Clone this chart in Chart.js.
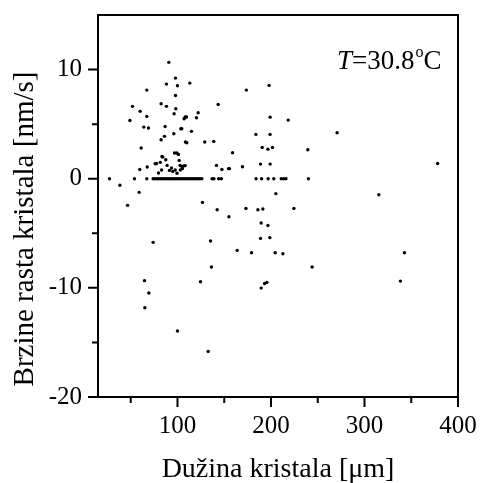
<!DOCTYPE html>
<html>
<head>
<meta charset="utf-8">
<script src="https://cdn.jsdelivr.net/npm/chart.js@4.4.0/dist/chart.umd.min.js"></script>
<style>
  html, body { margin: 0; padding: 0; background: #fff; }
  #wrap { width: 481px; height: 483px; }
</style>
</head>
<body>
<div id="wrap"><canvas id="chart" width="481" height="483"></canvas></div>
<script>
// points sitting exactly on zero growth rate
const zeroX = [27.3, 54, 67.2, 74, 76, 78, 80, 82, 84, 86, 88, 90, 92, 94, 96, 98, 100, 102, 104, 106,
  108, 110, 112, 114, 116, 118, 120, 122, 124, 126, 137, 139, 144, 147,
  184, 190, 197, 203, 211, 213.5, 216, 240];

// the rest of the points (length, rate)
const lenX = [38.4, 46.6, 49.1, 51.9, 59, 59.7, 60.1, 61.2, 64, 64.7, 65.1, 67.2, 67.2, 67.6, 69, 69.4, 74,
  76.2, 77.6, 79.7, 81.6, 82.5, 82.5, 83, 83.4, 84.3, 86.1, 86.8, 87.5, 88.2, 88.2, 88.9, 90.7, 91.4, 93.6, 95,
  96.1, 96.4, 96.8, 97.6, 97.9, 97.9, 98.2, 99.3, 99.5, 100, 100, 101, 101.8, 102.8, 103, 103.6, 104.6, 104.8,
  105.3, 106.4, 107.1, 108.2, 108.3, 108.5, 109.6, 110, 113.2, 115, 120.3, 122.1, 124.6, 126.7, 129.2, 132.8,
  135.3, 136.3, 138.8, 141.7, 142.4, 143.5, 147.5, 154.6, 155.6, 155, 158.9, 163.9, 169.5, 173.2, 173.7, 179.2,
  183.9, 186, 188.8, 188.8, 189.5, 189.5, 190.6, 191.3, 193.1, 195.6, 196.7, 196.7, 198, 198.8, 199.1, 199,
  199.1, 201.6, 204.5, 205.2, 212.7, 218.4, 224.5, 239.4, 244, 270.7, 315.3, 338.4, 342.7, 378.2];
const rateY = [-0.6, -2.44, 5.34, 6.63, -1.25, 0.85, 6.17, 2.81, 4.73, -9.34, -11.82, 8.12, 5.71, 1.07, 4.64, -10.47, -5.83,
  1.37, 1.4, 0.52, 1.5, 6.87, 3.57, 0.8, 2.04, 1.98, 3.88, 4.79, 1.74, 8.67, 6.63, 1.22, 10.66, 0.76, 0.98, 0.67,
  4.12, 5.95, 2.35, 0.8, 9.22, 7.63, 6.41, 2.35, 0.5, 8.52, -13.95, 2.23, 1.68, 1.22, 0.8, 4.58, 4.58, 1.1,
  0.92, 1.16, 5.5, 5.65, 1.2, 3.36, 5.65, 3.3, 8.76, 4.34, 5.59, 6.05, -9.44, -2.17, 3.36, -15.82,
  -5.71, -8.09, 3.42, 1.22, -2.84, 6.81, 0.85, 0.92, 0.92, -3.48, 2.38, -6.57, 1.1, -2.72, 8.12, -6.78,
  4.06, -2.84, 1.34, -5.47, -4.06, -10.02, 2.87, -2.78, -9.6, -9.5, 2.71, -4.28, 8.55, -5.4, 5.64, 4.06,
  1.34, 2.87, -6.78, -1.37, -6.87, 5.37, -2.72, 2.65, -8.09, 4.21, -1.47, -9.38, -6.78, 1.4];

const xTicks = [100, 200, 300, 400];
const yTicks = [-20, -10, 0, 10];
const xMinor = [50, 150, 250, 350];
const yMinor = [-15, -5, 5];

const points = zeroX.map(x => ({x: x, y: 0}))
  .concat(lenX.map((x, i) => ({x: x, y: rateY[i]})));

const serif = "'Liberation Serif', 'Times New Roman', serif";

// frame, outward ticks and the texts
const framePlugin = {
  id: 'frame',
  afterDraw(chart) {
    const ctx = chart.ctx;
    const a = chart.chartArea;
    const sx = chart.scales.x, sy = chart.scales.y;
    ctx.save();
    ctx.strokeStyle = '#000';
    ctx.lineWidth = 2;
    ctx.strokeRect(a.left, a.top, a.right - a.left, a.bottom - a.top);
    ctx.beginPath();
    xTicks.forEach(v => { const p = sx.getPixelForValue(v); ctx.moveTo(p, a.bottom); ctx.lineTo(p, a.bottom + 10); });
    xMinor.forEach(v => { const p = sx.getPixelForValue(v); ctx.moveTo(p, a.bottom); ctx.lineTo(p, a.bottom + 6); });
    yTicks.forEach(v => { const p = sy.getPixelForValue(v); ctx.moveTo(a.left, p); ctx.lineTo(a.left - 10, p); });
    yMinor.forEach(v => { const p = sy.getPixelForValue(v); ctx.moveTo(a.left, p); ctx.lineTo(a.left - 6, p); });
    ctx.stroke();

    ctx.fillStyle = '#000';
    ctx.textBaseline = 'alphabetic';
    // x title
    ctx.font = '28px ' + serif;
    ctx.textAlign = 'center';
    ctx.fillText('Dužina kristala [μm]', (a.left + a.right) / 2, 477);
    // y title
    ctx.save();
    ctx.translate(33, 229);
    ctx.rotate(-Math.PI / 2);
    ctx.font = '29px ' + serif;
    ctx.fillText('Brzine rasta kristala [nm/s]', 0, 0);
    ctx.restore();
    // temperature label
    ctx.textAlign = 'left';
    let x = 337;
    const base = 69;
    ctx.font = 'italic 27px ' + serif;
    ctx.fillText('T', x, base);
    x += ctx.measureText('T').width;
    ctx.font = '27px ' + serif;
    ctx.fillText('=30.8', x, base);
    x += ctx.measureText('=30.8').width;
    ctx.font = '16px ' + serif;
    ctx.fillText('o', x + 1, base - 12);
    x += ctx.measureText('o').width + 1;
    ctx.font = '27px ' + serif;
    ctx.fillText('C', x, base);
    ctx.restore();
  }
};

const noOverflow = s => { s.paddingLeft = 0; s.paddingRight = 0; s.paddingTop = 0; s.paddingBottom = 0; };

new Chart(document.getElementById('chart'), {
  type: 'scatter',
  data: {
    datasets: [{
      data: points,
      backgroundColor: '#000',
      borderWidth: 0,
      pointRadius: 1.7,
      pointHoverRadius: 1.7
    }]
  },
  options: {
    responsive: false,
    animation: false,
    layout: { padding: { top: 15, right: 23, left: 0, bottom: 0 } },
    plugins: { legend: { display: false }, tooltip: { enabled: false } },
    scales: {
      x: {
        type: 'linear',
        min: 15, max: 400,
        afterBuildTicks: s => { s.ticks = xTicks.map(v => ({value: v})); },
        afterFit: s => { s.height = 86; noOverflow(s); },
        grid: { display: false, drawTicks: false },
        border: { display: false },
        ticks: { color: '#000', padding: 14, maxRotation: 0, font: { family: serif, size: 25 } }
      },
      y: {
        type: 'linear',
        min: -20, max: 15,
        afterBuildTicks: s => { s.ticks = yTicks.map(v => ({value: v})); },
        afterFit: s => { s.width = 98; noOverflow(s); },
        grid: { display: false, drawTicks: false },
        border: { display: false },
        ticks: { color: '#000', padding: 16, font: { family: serif, size: 25 } }
      }
    }
  },
  plugins: [framePlugin]
});
</script>
</body>
</html>
